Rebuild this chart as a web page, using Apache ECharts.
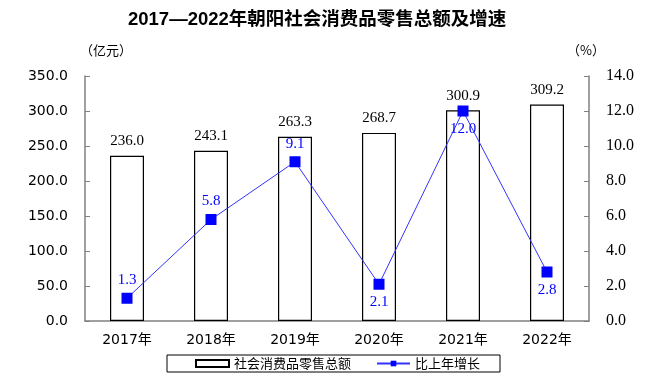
<!DOCTYPE html>
<html><head><meta charset="utf-8">
<script src="https://cdn.jsdelivr.net/npm/echarts@6/dist/echarts.min.js"></script>
<style>html,body{margin:0;padding:0;background:#fff}#c{width:658px;height:381px}</style>
</head><body><div id="c"></div>
<script>
var categories = ['2017年','2018年','2019年','2020年','2021年','2022年'];
var salesValues = [236.0, 243.1, 263.3, 268.7, 300.9, 309.2];
var growthValues = [1.3, 5.8, 9.1, 2.1, 12.0, 2.8];
var growthLabelPos = ['top','top','top','bottom','bottom','bottom'];

var chart = echarts.init(document.getElementById('c'));
var serif = '"Liberation Serif","Times New Roman",serif';
var sans = '"DejaVu Sans",Verdana,sans-serif';
var cjk = '"Noto Sans CJK SC",sans-serif';
chart.setOption({
  animation:false,
  title:{text:'2017—2022年朝阳社会消费品零售总额及增速',left:123,top:6,
    textStyle:{fontSize:18.5,fontWeight:'bold',color:'#000',fontFamily:'"Liberation Sans","Noto Sans CJK SC",sans-serif'}},
  grid:{left:85,right:69,top:76,bottom:60},
  legend:{top:355,left:167,itemGap:25,padding:[2,20,2,28],
    borderColor:'#000',borderWidth:1,itemWidth:33,itemHeight:7,
    textStyle:{fontSize:13,color:'#000',fontFamily:cjk},
    data:[{name:'社会消费品零售总额',icon:'rect'},{name:'比上年增长'}]},
  graphic:[
    {type:'text',left:80,top:44,style:{text:'（亿元）',fontSize:13,fill:'#000',fontFamily:cjk}},
    {type:'text',left:567,top:44,style:{text:'（%）',fontSize:13,fill:'#000',fontFamily:cjk}}
  ],
  xAxis:{type:'category',data:categories,
    axisLine:{lineStyle:{color:'#808080',width:1.5}},
    axisTick:{inside:true,length:5,lineStyle:{color:'#808080'}},
    axisLabel:{fontSize:14,color:'#000',margin:12,fontFamily:'"DejaVu Sans","Noto Sans CJK SC",sans-serif'}},
  yAxis:[
    {type:'value',min:0,max:350,interval:50,
      axisLine:{show:true,lineStyle:{color:'#808080',width:1.5}},
      axisTick:{show:true,inside:true,length:5,lineStyle:{color:'#808080'}},
      splitLine:{show:false},
      axisLabel:{formatter:function(v){return v.toFixed(1);},fontSize:14,color:'#000',margin:17,fontFamily:sans}},
    {type:'value',min:0,max:14,interval:2,position:'right',
      axisLine:{show:true,lineStyle:{color:'#808080',width:1.5}},
      axisTick:{show:true,inside:true,length:5,lineStyle:{color:'#808080'}},
      splitLine:{show:false},
      axisLabel:{formatter:function(v){return v.toFixed(1);},fontSize:16,color:'#000',margin:17,fontFamily:serif}}
  ],
  series:[
    {name:'社会消费品零售总额',type:'bar',data:salesValues,barWidth:34,
      itemStyle:{color:'#fff',borderColor:'#000',borderWidth:1.2},
      label:{show:true,position:'top',distance:7,fontSize:15,color:'#000',fontFamily:serif,
        formatter:function(p){return p.value.toFixed(1);}}},
    {name:'比上年增长',type:'line',yAxisIndex:1,
      data:growthValues.map(function(v,i){return {value:v,label:{position:growthLabelPos[i]}};}),
      symbol:'rect',symbolSize:11,
      lineStyle:{color:'#3333ff',width:1},
      itemStyle:{color:'#0000ff'},
      label:{show:true,fontSize:15,color:'#0000ff',fontFamily:serif,distance:5,
        formatter:function(p){return p.value.toFixed(1);}}}
  ]
});
</script></body></html>
